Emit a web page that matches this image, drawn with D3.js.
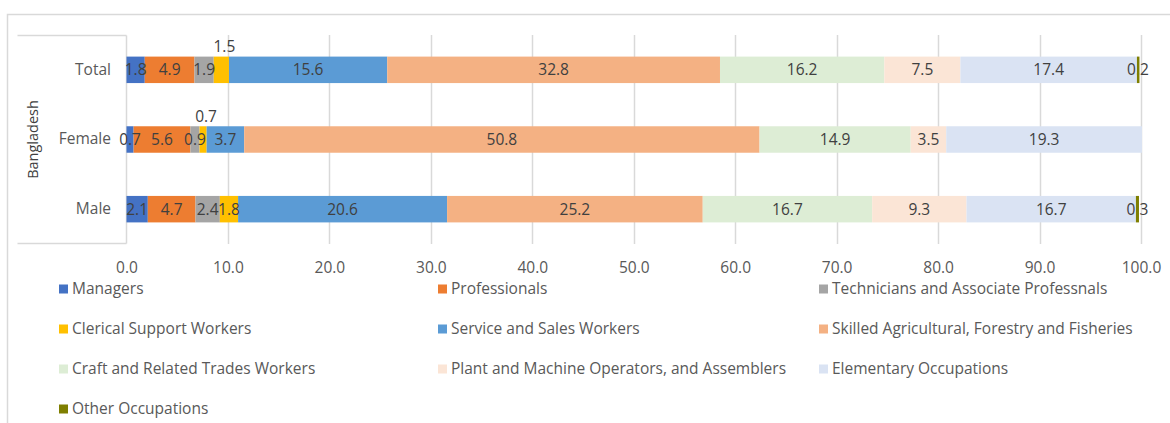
<!DOCTYPE html>
<html>
<head>
<meta charset="utf-8">
<script src="https://cdn.jsdelivr.net/npm/d3@7"></script>
<style>
  html, body { margin: 0; padding: 0; background: #fff; }
  svg { display: block; font-family: "Open Sans", "Liberation Sans", Arial, sans-serif; }
</style>
</head>
<body>
<svg id="chart" width="1170" height="423"></svg>
<script>
// Occupation shares (%) of employed persons, Bangladesh
const groups = ["Total", "Female", "Male"];
const occupations = [
  "Managers",
  "Professionals",
  "Technicians and Associate Professnals",
  "Clerical Support Workers",
  "Service and Sales Workers",
  "Skilled Agricultural, Forestry and Fisheries",
  "Craft and Related Trades Workers",
  "Plant and Machine Operators, and Assemblers",
  "Elementary Occupations",
  "Other Occupations"
];
const totalValues  = [1.8, 4.9, 1.9, 1.5, 15.6, 32.8, 16.2, 7.5, 17.4, 0.2];
const femaleValues = [0.7, 5.6, 0.9, 0.7, 3.7, 50.8, 14.9, 3.5, 19.3, 0];
const maleValues   = [2.1, 4.7, 2.4, 1.8, 20.6, 25.2, 16.7, 9.3, 16.7, 0.3];
const colors = ["#4472C4", "#ED7D31", "#A5A5A5", "#FFC000", "#5B9BD5",
                "#F4B183", "#DDEDD5", "#FBE5D6", "#DAE3F3", "#7F7F00"];
const xTicks = [0, 10, 20, 30, 40, 50, 60, 70, 80, 90, 100];
const outerLabel = "Bangladesh";
// labels that sit above their (narrow) segment
const raisedLabels = [["Total", "Clerical Support Workers"], ["Female", "Clerical Support Workers"]];

const valuesByGroup = { Total: totalValues, Female: femaleValues, Male: maleValues };
const rows = groups.map(g => {
  const r = { group: g };
  occupations.forEach((o, i) => { r[o] = valuesByGroup[g][i]; });
  return r;
});

const svg = d3.select("#chart");
const textColor = "#595959";
const gridColor = "#D9D9D9";
const fontFamily = "Open Sans, Liberation Sans, Arial, sans-serif";
const fontSize = 15.5;

const x = d3.scaleLinear().domain([0, 100]).range([126.5, 1141]);
const y = d3.scaleBand().domain(groups).range([35, 244]).paddingInner(0.62).paddingOuter(0.31);
const color = d3.scaleOrdinal().domain(occupations).range(colors);

// outer frame
svg.append("path")
  .attr("d", "M7.5,423 V14.5 H1170")
  .attr("fill", "none").attr("stroke", gridColor).attr("stroke-width", 1.5);

// category box on the left
svg.append("path")
  .attr("d", "M17.5,35.5 H126.5 M17.5,243.5 H126.5 M126.5,35.5 V243.5")
  .attr("fill", "none").attr("stroke", gridColor).attr("stroke-width", 1.5);

// vertical gridlines
svg.append("g").selectAll("line").data(xTicks.slice(1)).join("line")
  .attr("x1", d => Math.round(x(d)) + 0.5).attr("x2", d => Math.round(x(d)) + 0.5)
  .attr("y1", 35).attr("y2", 244)
  .attr("stroke", gridColor).attr("stroke-width", 1.5);

// x axis tick labels
const xAxis = d3.axisBottom(x).tickValues(xTicks).tickFormat(d3.format(".1f")).tickSize(0).tickPadding(0);
const xg = svg.append("g").attr("transform", "translate(0,262)").call(xAxis);
xg.select(".domain").remove();
xg.selectAll("text").attr("fill", textColor).attr("font-size", fontSize).attr("font-family", fontFamily);

// y axis category labels
const yAxis = d3.axisLeft(y).tickSize(0).tickPadding(15);
const yg = svg.append("g").attr("transform", "translate(126,0)").call(yAxis);
yg.select(".domain").remove();
yg.selectAll("text").attr("fill", textColor).attr("font-size", fontSize).attr("font-family", fontFamily);

svg.append("text")
  .attr("transform", `translate(38,${(35 + 244) / 2}) rotate(-90)`)
  .attr("text-anchor", "middle")
  .attr("fill", "#404040").attr("font-size", 14.5)
  .text(outerLabel);

// stacked bars
const stack = d3.stack().keys(occupations);
const series = stack(rows);
const barLayer = svg.append("g");
const labelLayer = svg.append("g");
const topLayer = svg.append("g");

series.forEach(s => {
  const layer = s.key === "Other Occupations" ? topLayer : barLayer;
  layer.selectAll(null).data(s.filter(d => d[1] - d[0] > 0)).join("rect")
    .attr("x", d => x(d[0]))
    .attr("y", d => y(d.data.group))
    .attr("width", d => Math.max(x(d[1]) - x(d[0]), s.key === "Other Occupations" ? 2.5 : 0))
    .attr("height", y.bandwidth())
    .attr("fill", color(s.key));

  labelLayer.selectAll(null).data(s.filter(d => d[1] - d[0] > 0)).join("text")
    .attr("x", d => {
      const raised = raisedLabels.some(([g, o]) => g === d.data.group && o === s.key);
      return (x(d[0]) + x(d[1])) / 2 + (raised ? 3 : 0);
    })
    .attr("y", d => {
      const raised = raisedLabels.some(([g, o]) => g === d.data.group && o === s.key);
      return raised ? y(d.data.group) - 10 : y(d.data.group) + y.bandwidth() / 2;
    })
    .attr("dy", "0.35em")
    .attr("text-anchor", "middle")
    .attr("fill", "#404040")
    .attr("font-size", fontSize)
    .text(d => d3.format(".1f")(d[1] - d[0]));
});

// legend
const legendCols = [59, 438, 819];
const legendRows = [289, 329, 369, 409];
const legend = svg.append("g");
occupations.forEach((o, i) => {
  const cx = legendCols[i % 3];
  const cy = legendRows[Math.floor(i / 3)];
  legend.append("rect").attr("x", cx).attr("y", cy - 4.5).attr("width", 9).attr("height", 9).attr("fill", color(o));
  legend.append("text").attr("x", cx + 13).attr("y", cy).attr("dy", "0.35em")
    .attr("fill", textColor).attr("font-size", fontSize).text(o);
});
</script>
</body>
</html>
